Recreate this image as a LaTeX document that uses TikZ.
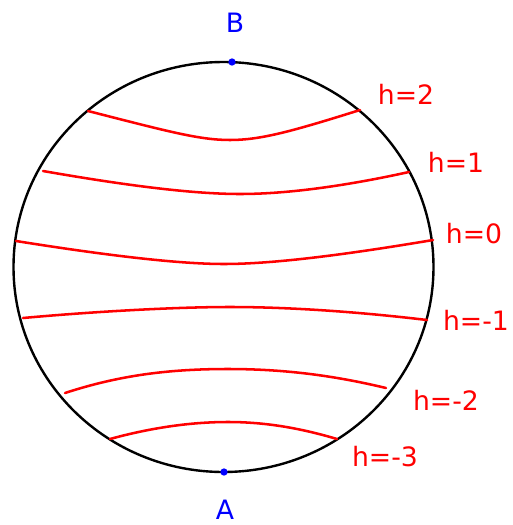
\documentclass[tikz,border=0pt]{standalone}
\usepackage{fontspec}
\setmainfont{DejaVu Sans}
\begin{document}
\begin{tikzpicture}[x=0.75pt,y=-0.75pt,
  levelline/.style={draw=red,line width=1.9pt,line cap=round},
  hlabel/.style={text=red,font=\fontsize{20pt}{23pt}\selectfont,inner sep=0pt},
  ptlabel/.style={text=blue,font=\fontsize{20pt}{23pt}\selectfont,inner sep=0pt},
  ptdot/.style={circle,fill=blue,inner sep=0pt,minimum size=5.5pt}]
\useasboundingbox (0,0) rectangle (512,525);
\fill[white] (0,0) rectangle (512,525);
% circle
\draw[line width=1.8pt] (223.5,267) ellipse [x radius=210, y radius=205];
% level lines
\draw[levelline] (88,111) .. controls (170,132) and (200,140) .. (230,140) .. controls (260,140) and (290,132) .. (360,110);
\draw[levelline] (43,171) .. controls (140,188) and (200,194) .. (240,194) .. controls (290,194) and (350,185) .. (409,172);
\draw[levelline] (16,241) .. controls (110,256) and (180,264) .. (224,264) .. controls (275,264) and (350,254) .. (433,240);
\draw[levelline] (23,318) .. controls (100,311) and (180,307) .. (230,307) .. controls (290,307) and (360,312) .. (427,320);
\draw[levelline] (65,393) .. controls (120,375) and (170,369) .. (228,369) .. controls (290,369) and (340,377) .. (386,388);
\draw[levelline] (110,439) .. controls (150,428) and (190,422) .. (228,422) .. controls (265,422) and (300,428) .. (337,439);
% points
\node[ptdot] (b) at (232,62) {};
\node[ptdot] (a) at (224,472) {};
\node[ptlabel] (lb) at (235,23) {B};
\node[ptlabel] (la) at (225,510) {A};
% labels
\node[hlabel] (h2) at (406,94) {h=2};
\node[hlabel] (h1) at (456,162) {h=1};
\node[hlabel] (h0) at (474,234) {h=0};
\node[hlabel] (hm1) at (476,320) {h=-1};
\node[hlabel] (hm2) at (446,400) {h=-2};
\node[hlabel] (hm3) at (385,457) {h=-3};
\end{tikzpicture}
\end{document}
